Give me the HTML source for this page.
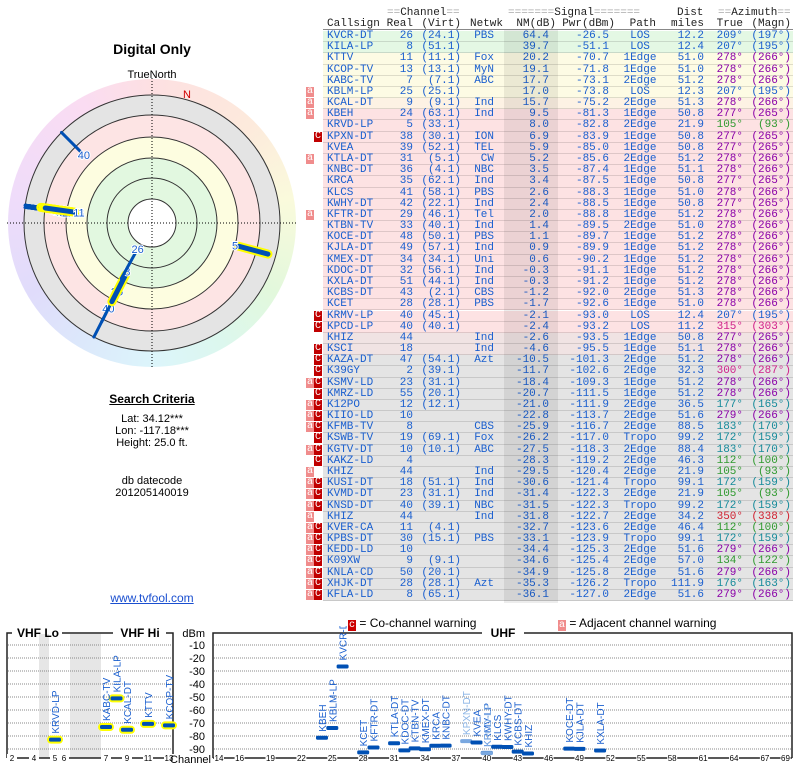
<!DOCTYPE html>
<html><head><meta charset="utf-8">
<style>
body{margin:0;width:800px;height:768px;background:#fff;position:relative;overflow:hidden;font-family:"Liberation Sans",sans-serif}
.abs{position:absolute}
.mono{font-family:"Liberation Mono",monospace;font-size:11px;line-height:11px;white-space:pre}
.ctr{text-align:center}
.g{color:#aaa}
</style></head><body>
<div class="abs ctr" style="left:52px;top:41px;width:200px;font-size:14px;font-weight:bold">Digital Only</div>
<div class="abs ctr" style="left:102px;top:69px;width:100px;font-size:11px">TrueNorth</div>
<div class="abs" style="left:8px;top:79px;width:288px;height:288px;border-radius:50%;background:conic-gradient(from 0deg,#fde0e2,#fdeadc 45deg,#fafadc 80deg,#e2f8dc 120deg,#dcf7ee 150deg,#dcf5fb 180deg,#dce8fb 210deg,#e0dcfb 240deg,#efdcfa 280deg,#fadcf2 330deg,#fde0e2)"></div>
<svg class="abs" style="left:0;top:0" width="304" height="380" id="polar"></svg>
<div class="abs ctr" style="left:52px;top:392px;width:200px;font-size:12px;font-weight:bold;text-decoration:underline">Search Criteria</div>
<div class="abs ctr" style="left:52px;top:413px;width:200px;font-size:11px;line-height:12px">Lat: 34.12***<br>Lon: -117.18***<br>Height: 25.0 ft.</div>
<div class="abs ctr" style="left:52px;top:475px;width:200px;font-size:11px;line-height:12px">db datecode<br>201205140019</div>
<div class="abs ctr" style="left:52px;top:591px;width:200px;font-size:12px;color:#1a4fd0;text-decoration:underline">www.tvfool.com</div>

<div class="abs mono" style="left:387px;top:8px;color:#222"><span class="g">==</span>Channel<span class="g">==</span></div>
<div class="abs mono" style="left:508px;top:8px;color:#222"><span class="g">=======</span>Signal<span class="g">=======</span></div>
<div class="abs mono" style="left:677px;top:8px;color:#222">Dist</div>
<div class="abs mono" style="left:718px;top:8px;color:#222"><span class="g">==</span>Azimuth<span class="g">==</span></div>
<div id="hdr2"></div>
<div class="abs" style="left:323px;top:29px;width:470px;height:1px;background:#888"></div>
<div id="table"></div>
<div class="abs" style="left:504px;top:30px;width:54px;height:573px;background:rgba(0,0,0,0.07)"></div>

<div class="abs" style="left:348px;top:616px;font-size:12px"><span style="background:#c00;color:#fff;font-family:'Liberation Mono';font-size:10px;padding:0 1px">c</span> = Co-channel warning</div>
<div class="abs" style="left:558px;top:616px;font-size:12px"><span style="background:#f08c8c;color:#fff;font-family:'Liberation Mono';font-size:10px;padding:0 1px">a</span> = Adjacent channel warning</div>
<svg class="abs" style="left:0;top:626px" width="800" height="142" id="spec"></svg>

<script>
const calls=["KVCR-DT","KILA-LP","KTTV","KCOP-TV","KABC-TV","KBLM-LP","KCAL-DT","KBEH","KRVD-LP","KPXN-DT","KVEA","KTLA-DT","KNBC-DT","KRCA","KLCS","KWHY-DT","KFTR-DT","KTBN-TV","KOCE-DT","KJLA-DT","KMEX-DT","KDOC-DT","KXLA-DT","KCBS-DT","KCET","KRMV-LP","KPCD-LP","KHIZ","KSCI","KAZA-DT","K39GY","KSMV-LD","KMRZ-LD","K12PO","KIIO-LD","KFMB-TV","KSWB-TV","KGTV-DT","KAKZ-LD","KHIZ","KUSI-DT","KVMD-DT","KNSD-DT","KHIZ","KVER-CA","KPBS-DT","KEDD-LD","K09XW","KNLA-CD","XHJK-DT","KFLA-LD"];
const real=[26,8,11,13,7,25,9,24,5,38,39,31,36,35,41,42,29,33,48,49,34,32,51,43,28,40,40,44,18,47,2,23,55,12,10,8,19,10,4,44,18,23,40,44,11,30,10,9,50,28,8];
const virt=["24.1","51.1","11.1","13.1","7.1","25.1","9.1","63.1","33.1","30.1","52.1","5.1","4.1","62.1","58.1","22.1","46.1","40.1","50.1","57.1","34.1","56.1","44.1","2.1","28.1","45.1","40.1","","","54.1","39.1","31.1","20.1","12.1","","","69.1","10.1","","","51.1","31.1","39.1","","4.1","15.1","","9.1","20.1","28.1","65.1"];
const netwk=["PBS","","Fox","MyN","ABC","","Ind","Ind","","ION","TEL","CW","NBC","Ind","PBS","Ind","Tel","Ind","PBS","Ind","Uni","Ind","Ind","CBS","PBS","","","Ind","Ind","Azt","","","","","","CBS","Fox","ABC","","Ind","Ind","Ind","NBC","Ind","","PBS","","","","Azt",""];
const nm=[64.4,39.7,20.2,19.1,17.7,17.0,15.7,9.5,8.0,6.9,5.9,5.2,3.5,3.4,2.6,2.4,2.0,1.4,1.1,0.9,0.6,-0.3,-0.3,-1.2,-1.7,-2.1,-2.4,-2.6,-4.6,-10.5,-11.7,-18.4,-20.7,-21.0,-22.8,-25.9,-26.2,-27.5,-28.3,-29.5,-30.6,-31.4,-31.5,-31.8,-32.7,-33.1,-34.4,-34.6,-34.9,-35.3,-36.1];
const pwr=[-26.5,-51.1,-70.7,-71.8,-73.1,-73.8,-75.2,-81.3,-82.8,-83.9,-85.0,-85.6,-87.4,-87.5,-88.3,-88.5,-88.8,-89.5,-89.7,-89.9,-90.2,-91.1,-91.2,-92.0,-92.6,-93.0,-93.2,-93.5,-95.5,-101.3,-102.6,-109.3,-111.5,-111.9,-113.7,-116.7,-117.0,-118.3,-119.2,-120.4,-121.4,-122.3,-122.3,-122.7,-123.6,-123.9,-125.3,-125.4,-125.8,-126.2,-127.0];
const path=["LOS","LOS","1Edge","1Edge","2Edge","LOS","2Edge","1Edge","2Edge","1Edge","1Edge","2Edge","1Edge","1Edge","1Edge","1Edge","1Edge","2Edge","1Edge","1Edge","1Edge","1Edge","1Edge","2Edge","1Edge","LOS","LOS","1Edge","1Edge","2Edge","2Edge","1Edge","1Edge","2Edge","2Edge","2Edge","Tropo","2Edge","2Edge","2Edge","Tropo","2Edge","Tropo","2Edge","2Edge","Tropo","2Edge","2Edge","2Edge","Tropo","2Edge"];
const dist=[12.2,12.4,51.0,51.0,51.2,12.3,51.3,50.8,21.9,50.8,50.8,51.2,51.1,50.8,51.0,50.8,51.2,51.0,51.2,51.2,51.2,51.2,51.2,51.3,51.0,12.4,11.2,50.8,51.1,51.2,32.3,51.2,51.2,36.5,51.6,88.5,99.2,88.4,46.3,21.9,99.1,21.9,99.2,34.2,46.4,99.1,51.6,57.0,51.6,111.9,51.6];
const azTrue=[209,207,278,278,278,207,278,277,105,277,277,278,278,277,278,277,278,278,278,278,278,278,278,278,278,207,315,277,278,278,300,278,278,177,279,183,172,183,112,105,172,105,172,350,112,172,279,134,279,176,279];
const azMag=[197,195,266,266,266,195,266,265,93,265,265,266,266,265,266,265,266,266,266,266,266,266,266,266,266,195,303,265,266,266,287,266,266,165,266,170,159,170,100,93,159,93,159,338,100,159,266,122,266,163,266];
const warnA=[0,0,0,0,0,1,1,1,0,0,0,1,0,0,0,0,1,0,0,0,0,0,0,0,0,0,0,0,0,0,0,1,0,1,1,1,0,1,0,1,1,1,1,1,1,1,1,1,1,1,1];
const warnC=[0,0,0,0,0,0,0,0,0,1,0,0,0,0,0,0,0,0,0,0,0,0,0,0,0,1,1,0,1,1,1,1,1,1,1,1,1,1,1,0,1,1,1,0,1,1,1,1,1,1,1];

function azColor(a){if(a>=200&&a<=210)return"#1a5fcf";if(a>=276&&a<=280)return"#8a00a8";if(a>=100&&a<=140)return"#2f9a2f";if(a>=170&&a<=185)return"#158a9a";if(a>=295&&a<=320)return"#d0208a";if(a>=340)return"#d02030";return"#1a5fcf";}
function rowBg(i){if(i<2)return"#e4f8e4";if(i<6)return"#fdfbe4";if(i<7)return"#fdf2e4";if(i<27)return"#fde2e3";if(i<29)return"#f0e3e3";return"#e4e4e4";}
const T=document.getElementById('table');
const RH=11.18,TOP=31;
function sp(parent,txt,left,right,color,extra){const s=document.createElement('div');s.className='abs mono';s.textContent=txt;s.style.color=color;s.style.top='0px';if(left!=null)s.style.left=left+'px';if(right!=null){s.style.right=(470-right)+'px';}if(extra)s.style.cssText+=extra;parent.appendChild(s);return s;}
// header row 2
const H=document.getElementById('hdr2');
const hr=document.createElement('div');hr.className='abs';hr.style.cssText='left:323px;top:19px;width:470px;height:11px';H.appendChild(hr);
sp(hr,"Callsign",4,null,"#222");sp(hr,"Real",null,90,"#222");sp(hr,"(Virt)",null,138,"#222");sp(hr,"Netwk",null,180,"#222");
sp(hr,"NM(dB)",null,233,"#222");sp(hr,"Pwr(dBm)",null,292,"#222");sp(hr,"Path",null,333,"#222");sp(hr,"miles",null,381,"#222");
sp(hr,"True",null,420,"#222");sp(hr,"(Magn)",null,468,"#222");
calls.forEach((c,i)=>{
  const r=document.createElement('div');
  r.className='abs';
  
  
  r.style.cssText=`left:323px;top:${TOP+i*RH}px;width:470px;height:${RH}px;background:${rowBg(i)};border-bottom:1px solid rgba(0,0,0,0.12);box-sizing:border-box`;
  T.appendChild(r);
  const b="#1a5fcf";
  sp(r,c,4,null,b);
  sp(r,String(real[i]),null,90,b);
  sp(r,virt[i]?"("+virt[i]+")":"",null,138,b);
  sp(r,netwk[i],null,171,b);
  sp(r,nm[i].toFixed(1),null,226,b);
  sp(r,pwr[i].toFixed(1),null,286,b);
  sp(r,path[i],294,null,b,"width:46px;text-align:center");
  sp(r,dist[i].toFixed(1),null,381,b);
  const ac=azColor(azTrue[i]);
  sp(r,azTrue[i]+"°",null,420,ac);
  sp(r,"("+azMag[i]+"°)",null,468,ac);
  if(warnA[i]){const a=document.createElement('div');a.className='abs mono';a.textContent='a';
    
    
    a.style.cssText=`left:306px;top:${TOP+i*RH}px;width:8px;height:10px;background:#f08c8c;color:#fff;font-size:10px;line-height:10px;text-align:center`;T.appendChild(a);}
  if(warnC[i]){const a=document.createElement('div');a.className='abs mono';a.textContent='C';
    
    
    a.style.cssText=`left:314px;top:${TOP+i*RH}px;width:8px;height:10px;background:#c00000;color:#fff;font-size:10px;line-height:10px;text-align:center`;T.appendChild(a);}
});

// polar
const NS="http://www.w3.org/2000/svg";
const P=document.getElementById('polar');
const CX=152,CY=223;
function el(p,tag,attrs){const e=document.createElementNS(NS,tag);for(const k in attrs)e.setAttribute(k,attrs[k]);p.appendChild(e);return e;}
const bands=[[128,"#e4e4e4"],[108,"#fde4e4"],[86,"#fdfde0"],[65,"#e2f8e0"],[24,"#ffffff"]];
bands.forEach(b=>{const c=el(P,'circle',{cx:CX,cy:CY,r:b[0],fill:b[1],stroke:"#333","stroke-width":1});});
const rr=el(P,'circle',{cx:CX,cy:CY,r:45,fill:"none",stroke:"#333","stroke-width":1});


el(P,'line',{x1:CX,y1:CY-145,x2:CX,y2:CY+145,stroke:"#000","stroke-dasharray":"1,2"});
el(P,'line',{x1:CX-145,y1:CY,x2:CX+145,y2:CY,stroke:"#000","stroke-dasharray":"1,2"});
const nl=el(P,'text',{x:183,y:98,fill:"#d00000","font-size":11,"font-family":"Liberation Sans"});nl.textContent="N";


function rOf(v){return 98-v;}
function pt(az,r){const t=az*Math.PI/180;return[CX+r*Math.sin(t),CY-r*Math.cos(t)];}
const drawIdx=[];nm.forEach((v,i)=>{if(v>-3)drawIdx.push(i);});
drawIdx.slice().reverse().forEach(i=>{
  const r0=rOf(nm[i]),r1=Math.min(128,r0+30);
  const a=pt(azTrue[i],r0),b=pt(azTrue[i],r1);
  if(real[i]<14){el(P,'line',{x1:a[0],y1:a[1],x2:b[0],y2:b[1],stroke:"#ffff00","stroke-width":9,"stroke-linecap":"round"});}
  const ln=el(P,'line',{x1:a[0],y1:a[1],x2:b[0],y2:b[1],stroke:"#0050b4","stroke-width":real[i]<14?5:3,"stroke-linecap":"round"});
  
  
  const l=pt(azTrue[i],r0-4);
  const t=el(P,'text',{x:l[0],y:l[1]+4,fill:"#1a5fcf","font-size":11,"text-anchor":"middle","font-family":"Liberation Sans",stroke:"#fff","stroke-width":2,"paint-order":"stroke"});
  t.textContent=real[i];
  
  
});

// spectrum
const S=document.getElementById('spec');
const OY=626;
function yOf(d){return 632+(-d)*1.3-OY;}
function xV(ch){if(ch<=4)return 12+(ch-2)*11;if(ch<=6)return 55+(ch-5)*9;return 106+(ch-7)*10.5;}
function xU(ch){return 219+(ch-14)*10.3;}
const ticksDb=[-10,-20,-30,-40,-50,-60,-70,-80,-90];
const vhfTicks=[2,4,5,6,7,9,11,13];
const uhfTicks=[14,16,19,22,25,28,31,34,37,40,43,46,49,52,55,58,61,64,67,69];
const lightCalls=["KSCI","KPXN-DT","KPCD-LP"];
el(S,'rect',{x:39,y:8,width:10,height:124,fill:"#e6e6e6"});
el(S,'rect',{x:70,y:8,width:31,height:124,fill:"#e6e6e6"});
ticksDb.forEach(d=>{
  el(S,'line',{x1:8,x2:172,y1:yOf(d),y2:yOf(d),stroke:"#888","stroke-dasharray":"1,1"});
  el(S,'line',{x1:214,x2:791,y1:yOf(d),y2:yOf(d),stroke:"#888","stroke-dasharray":"1,1"});
  const t=el(S,'text',{x:205,y:yOf(d)+4,"font-size":11,"text-anchor":"end","font-family":"Liberation Sans"});t.textContent=d;
  
  
});
const dbm=el(S,'text',{x:205,y:11,"font-size":11,"text-anchor":"end","font-family":"Liberation Sans"});dbm.textContent="dBm";
el(S,'path',{d:"M7,132 V7 H12 M62,7 H113 M166,7 H173 V132",fill:"none",stroke:"#222","stroke-width":1.5});
el(S,'path',{d:"M213,132 V7 H482 M524,7 H792 V132",fill:"none",stroke:"#222","stroke-width":1.5});
el(S,'line',{x1:7,x2:173,y1:132,y2:132,stroke:"#222","stroke-width":1.5});
el(S,'line',{x1:213,x2:792,y1:132,y2:132,stroke:"#222","stroke-width":1.5});
[["VHF Lo",38],["VHF Hi",140],["UHF",503]].forEach(a=>{const t=el(S,'text',{x:a[1],y:11,"font-size":12,"font-weight":"bold","text-anchor":"middle","font-family":"Liberation Sans"});t.textContent=a[0];
  
  });
vhfTicks.forEach(c=>{const x=xV(c);el(S,'rect',{x:x-5,y:128,width:10,height:8,fill:"#fff"});const t=el(S,'text',{x:x,y:135,"font-size":8,"text-anchor":"middle","font-family":"Liberation Sans"});t.textContent=c;});
uhfTicks.forEach(c=>{const x=xU(c);el(S,'rect',{x:x-5,y:128,width:10,height:8,fill:"#fff"});const t=el(S,'text',{x:x,y:135,"font-size":8,"text-anchor":"middle","font-family":"Liberation Sans"});t.textContent=c;});
el(S,'rect',{x:175,y:127,width:37,height:12,fill:"#fff"});
const chl=el(S,'text',{x:211,y:137,"font-size":11,"text-anchor":"end","font-family":"Liberation Sans"});chl.textContent="Channel";
calls.forEach((c,i)=>{
  if(nm[i]<=-3)return;
  const ch=real[i];const x=ch<14?xV(ch):xU(ch);const y=yOf(pwr[i]);
  const light=lightCalls.includes(c);
  const col=light?"#7aa8e0":"#0050b4";
  if(ch<14)el(S,'rect',{x:x-8,y:y-4,width:16,height:8,rx:4,fill:"#ffff00"});
  const m=el(S,'rect',{x:x-6,y:y-2,width:12,height:4,rx:1.5,fill:col});
  
  
  const t=el(S,'text',{x:x+4,y:y-6,"font-size":10,fill:light?"#8ab4e6":"#1a5fcf","font-family":"Liberation Sans",transform:`rotate(-90 ${x+4} ${y-6})`});
  t.textContent=c;
  
  
});
</script>
</body></html>
